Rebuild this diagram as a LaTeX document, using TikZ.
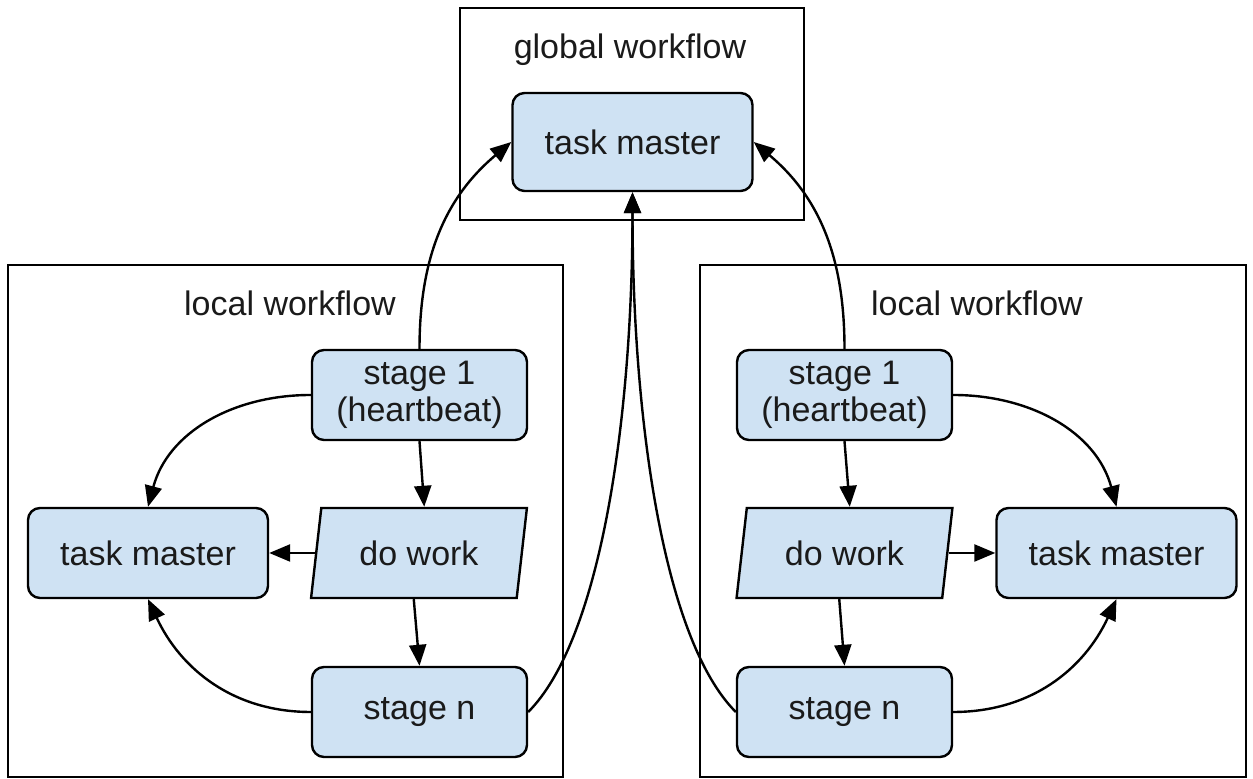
\documentclass[tikz,border=0pt]{standalone}
\usepackage{fontspec}
\setmainfont{Liberation Sans}
\usepackage{xcolor}
\usetikzlibrary{arrows.meta, shapes.geometric}

\definecolor{boxblue}{HTML}{CFE2F3}
\definecolor{inkgray}{HTML}{1A1A1A}

\begin{document}
\begin{tikzpicture}[ x = 0.5pt, y = 0.5pt
                   , font = \fontsize{17}{18.5}\selectfont
                   , >={Triangle[width=8.5pt, length=10.5pt]}
                   , frame/.style = { draw = black, line width = 1pt }
                   , title/.style = { text = inkgray, inner sep = 0pt }
                   , stagebox/.style = { rectangle
                                       , rounded corners = 6pt
                                       , draw = black
                                       , line width = 1.2pt
                                       , fill = boxblue
                                       , text = inkgray
                                       , align = center
                                       , inner sep = 0pt
                                       , minimum width = 107.5pt
                                       , minimum height = 45pt }
                   , taskbox/.style = { stagebox, minimum width = 120pt }
                   , workbox/.style = { trapezium
                                      , trapezium left angle = 76
                                      , trapezium right angle = 104
                                      , trapezium stretches = true
                                      , draw = black
                                      , line width = 1.2pt
                                      , fill = boxblue
                                      , text = inkgray
                                      , inner sep = 0pt
                                      , minimum width = 108pt
                                      , minimum height = 45pt }
                   , link/.style = { ->, line width = 1.2pt }
                   ]

  \useasboundingbox (0,0) rectangle (1253,779);

  % the three workflow frames
  \draw[frame] (460,559) rectangle (804,771);
  \draw[frame] (8,2) rectangle (563,514);
  \draw[frame] (700,2) rectangle (1246,514);

  \node (globaltitle) [title] at (630,729) {global workflow};
  \node (localtitleL) [title] at (290,476) {local workflow};
  \node (localtitleR) [title] at (977,476) {local workflow};

  \node (gtm) [taskbox, minimum height = 49pt] at (632.5,637) {task master};

  % left local workflow
  \node (s1L) [stagebox] at (419.5,384) {stage 1\\(heartbeat)};
  \node (dwL) [workbox] at (419,226) {do work};
  \node (tmL) [taskbox] at (148,226) {task master};
  \node (snL) [stagebox] at (419.5,67) {stage n};

  % right local workflow
  \node (s1R) [stagebox] at (844.5,384) {stage 1\\(heartbeat)};
  \node (dwR) [workbox] at (844.5,226) {do work};
  \node (tmR) [taskbox] at (1116.5,226) {task master};
  \node (snR) [stagebox] at (844.5,67) {stage n};

  \draw[link] (s1L.west) to[out=180, in=75] (tmL.north);
  \draw[link] (s1L.south) -- (dwL.top side);
  \draw[link] (dwL.left side) -- (tmL.east);
  \draw[link] (dwL.bottom side) -- (snL.north);
  \draw[link] (snL.west) to[out=180, in=-65] (tmL.south);

  \draw[link] (s1R.east) to[out=0, in=105] (tmR.north);
  \draw[link] (s1R.south) -- (dwR.top side);
  \draw[link] (dwR.right side) -- (tmR.west);
  \draw[link] (dwR.bottom side) -- (snR.north);
  \draw[link] (snR.east) to[out=0, in=-115] (tmR.south);

  % heartbeats and results up to the global task master
  \draw[link] (s1L.north) to[out=90, in=-140] (gtm.west);
  \draw[link] (s1R.north) to[out=90, in=-40] (gtm.east);
  \draw[link] (snL.east) .. controls +(72,72) and +(0,-229) .. (gtm.south);
  \draw[link] (snR.west) .. controls +(-72,72) and +(0,-229) .. (gtm.south);

\end{tikzpicture}
\end{document}
